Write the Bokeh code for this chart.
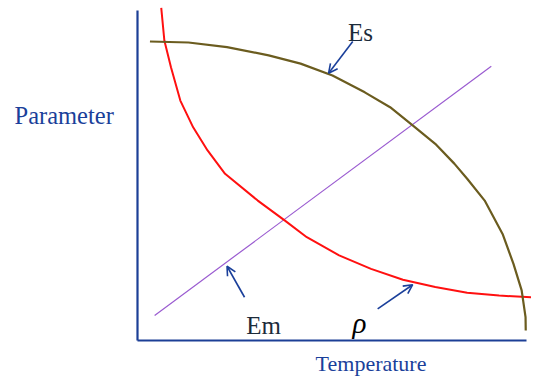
from bokeh.plotting import figure
from bokeh.models import Label, Arrow, OpenHead, Range1d
from bokeh.embed import file_html
from bokeh.resources import INLINE

# Es curve (brown)
es_x = [3.2, 13.1, 23.0, 33.7, 41.9, 50.1, 58.4, 64.9, 70.7, 76.5, 81.4, 84.7, 89.2, 93.8, 96.6, 98.7, 99.7, 99.75]
es_y = [90.6, 90.3, 88.9, 86.4, 83.9, 80.3, 75.2, 70.7, 65.2, 59.6, 53.6, 49.0, 42.4, 32.3, 23.2, 15.2, 7.1, 3.0]

# rho curve (red)
rho_x = [6.1, 6.9, 8.6, 11.0, 14.3, 18.0, 22.5, 30.9, 37.8, 43.5, 51.8, 60.0, 68.2, 76.5, 84.7, 92.9, 101.2]
rho_y = [100.8, 90.9, 82.8, 72.7, 64.6, 57.6, 50.5, 42.4, 36.4, 31.3, 25.8, 21.7, 18.4, 16.2, 14.5, 13.6, 13.1]

# Em line (purple)
em_x = [4.4, 90.9]
em_y = [7.6, 83.1]

# curve labels
label_text = ["Es", "Em", "\u03c1"]
label_x = [57.3, 32.4, 57.0]
label_y = [93.2, 4.6, 5.4]

# arrows: start -> tip
arrow_x0 = [55.3, 27.5, 61.7]
arrow_y0 = [90.6, 13.1, 9.6]
arrow_x1 = [49.1, 23.0, 70.7]
arrow_y1 = [81.0, 22.5, 16.9]

x_title = "Temperature"
y_title = "Parameter"

AXIS_BLUE = "#1c3f96"
TITLE_BLUE = "#1a3f9a"

p = figure(width=531, height=376, output_backend="svg", toolbar_location=None,
           x_range=Range1d(-35.2, 101.23), y_range=Range1d(-10.91, 103.03),
           min_border=0)
p.grid.visible = False
p.outline_line_color = None
p.background_fill_color = "white"
p.border_fill_color = "white"

for ax in (p.xaxis[0], p.yaxis[0]):
    ax.fixed_location = 0
    ax.ticker = []
    ax.major_tick_line_color = None
    ax.minor_tick_line_color = None
    ax.major_tick_out = 0
    ax.major_label_standoff = 0
    ax.major_label_text_font_size = "0px"
    ax.axis_line_color = AXIS_BLUE
    ax.axis_line_width = 2.2
    ax.bounds = (0, 100)

p.line(em_x, em_y, line_color="#9a5bd0", line_width=1.2)
p.line(rho_x, rho_y, line_color="#ff1010", line_width=2, line_join="round")
p.line(es_x, es_y, line_color="#6b5c1f", line_width=2.2, line_join="round")

for i in range(3):
    p.add_layout(Arrow(end=OpenHead(size=9, line_color="#1a3f9a", line_width=1.6),
                       x_start=arrow_x0[i], y_start=arrow_y0[i],
                       x_end=arrow_x1[i], y_end=arrow_y1[i],
                       line_color="#1a3f9a", line_width=1.6))

for i in range(3):
    is_rho = label_text[i] == "\u03c1"
    p.add_layout(Label(x=label_x[i], y=label_y[i], text=label_text[i],
                       text_font="Liberation Serif",
                       text_font_size="29px" if is_rho else "25px",
                       text_font_style="italic" if is_rho else "normal",
                       text_color="#000000" if is_rho else "#1c2b3a",
                       text_align="center", text_baseline="alphabetic"))

p.add_layout(Label(x=-31.6, y=68.2, text=y_title, text_font="Liberation Serif",
                   text_font_size="24.5px", text_color=TITLE_BLUE,
                   text_align="left", text_baseline="alphabetic"))
p.add_layout(Label(x=60.0, y=-6.9, text=x_title, text_font="Liberation Serif",
                   text_font_size="22px", text_color=TITLE_BLUE,
                   text_align="center", text_baseline="alphabetic"))

open("out.html", "w").write(file_html(p, INLINE))
